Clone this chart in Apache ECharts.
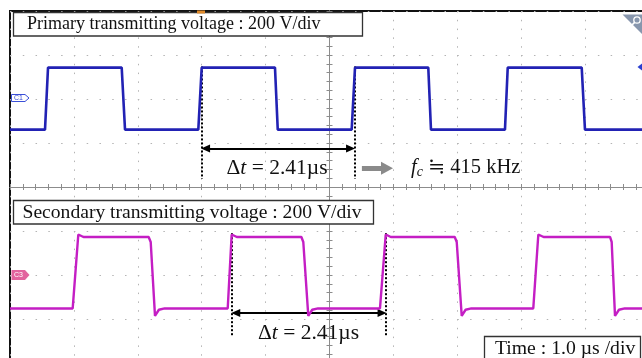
<!DOCTYPE html>
<html><head><meta charset="utf-8">
<script src="https://cdn.jsdelivr.net/npm/echarts@6/dist/echarts.min.js"></script>
<style>html,body{margin:0;padding:0;background:#fff}#c{width:642px;height:358px}</style>
</head><body><div id="c"></div>
<script>
// time in µs relative to screen centre, level in vertical divisions (200 V/div)
const primaryT = [-5, -4.452, -4.405, -3.252, -3.20, -2.053, -2.0, -0.853, -0.81, 0.347, 0.399, 1.546, 1.588, 2.746, 2.789, 3.947, 3.998, 5];
const primaryV = [1.305, 1.305, 2.714, 2.714, 1.305, 1.305, 2.714, 2.714, 1.305, 1.305, 2.714, 2.714, 1.305, 1.305, 2.714, 2.714, 1.305, 1.305];
const secondaryT = [-5, -4.019, -3.931, -3.85, -2.83, -2.798, -2.731, -2.67, -2.58, -1.593, -1.531, -1.45, -0.44, -0.41, -0.332, -0.27, -0.18, 0.79, 0.88, 0.96, 1.96, 1.991, 2.069, 2.13, 2.22, 3.189, 3.268, 3.35, 4.39, 4.416, 4.468, 4.53, 4.62, 5];
const secondaryV = [-2.76, -2.76, -1.08, -1.136, -1.136, -1.25, -2.93, -2.79, -2.76, -2.76, -1.08, -1.136, -1.136, -1.25, -2.93, -2.79, -2.76, -2.76, -1.08, -1.136, -1.136, -1.25, -2.93, -2.79, -2.76, -2.76, -1.08, -1.136, -1.136, -1.25, -2.93, -2.79, -2.76, -2.76];
const primaryLabel = 'Primary transmitting voltage : 200 V/div';
const secondaryLabel = 'Secondary transmitting voltage : 200 V/div';
const timeLabel = 'Time : 1.0 µs /div';
const deltaValue = ' = 2.41µs';
const fcValue = ' ≒ 415 kHz';
// Δt cursor positions (µs)
const primaryCursor = [-2.0, 0.39];
const secondaryCursor = [-1.527, 0.883];

const pairs = (t, v) => t.map((x, i) => [x, v[i]]);
const serif = '"Liberation Serif", "DejaVu Serif", serif';

const chart = echarts.init(document.getElementById('c'), null, {renderer: 'canvas'});

const vline = (x, y0, y1) => [{coord: [x, y0]}, {coord: [x, y1]}];
const tickAxis = (pos, split, dash) => ({
  type: 'value', position: pos,
  axisLine: {onZero: true, lineStyle: {color: '#8c8c8c', width: 1}},
  axisTick: {show: true, inside: true, length: 3, lineStyle: {color: '#8c8c8c'}},
  minorTick: {show: true, splitNumber: 5, length: 3, lineStyle: {color: '#8c8c8c'}},
  axisLabel: {show: false},
  splitLine: {show: split, lineStyle: {color: '#b4b4b4', width: 1, type: dash}}
});

chart.setOption({
  animation: false,
  backgroundColor: '#fff',
  grid: {left: 10, top: 11, width: 639, height: 352, outerBoundsMode: 'none', containLabel: false,
         show: true, borderColor: '#111', borderWidth: 2, backgroundColor: 'transparent'},
  xAxis: [
    Object.assign(tickAxis('bottom', true, [1.5, 7.3]), {min: -5, max: 5, interval: 1}),
    Object.assign(tickAxis('top', false, 'solid'), {min: -5, max: 5, interval: 1})
  ],
  yAxis: [
    Object.assign(tickAxis('left', true, [1.5, 11.28]), {min: -4, max: 4, interval: 1}),
    Object.assign(tickAxis('right', false, 'solid'), {min: -4, max: 4, interval: 1})
  ],
  series: [
    {type: 'line', name: 'C1', data: pairs(primaryT, primaryV), showSymbol: false, symbol: 'none',
     lineStyle: {color: '#2222b4', width: 2.6}, z: 5,
     markLine: {silent: true, symbol: 'none', label: {show: false},
       lineStyle: {color: '#000', width: 2, type: [2, 2]},
       data: [vline(primaryCursor[0], 2.74, 0.18), vline(primaryCursor[1], 2.74, 0.18)]}},
    {type: 'line', name: 'C3', data: pairs(secondaryT, secondaryV), showSymbol: false, symbol: 'none',
     lineStyle: {color: '#c41ec4', width: 2.4}, z: 5,
     markLine: {silent: true, symbol: 'none', label: {show: false},
       lineStyle: {color: '#000', width: 2, type: [2, 2]},
       data: [vline(secondaryCursor[0], -1.05, -3.41), vline(secondaryCursor[1], -1.05, -3.41)]}},
    {type: 'line', data: [], markLine: {silent: true, symbol: ['triangle', 'triangle'], symbolSize: [8, 9], label: {show: false},
       lineStyle: {color: '#000', width: 2, type: 'solid'},
       data: [[{coord: [primaryCursor[0] + 0.06, 0.873]}, {coord: [primaryCursor[1] - 0.06, 0.873]}],
              [{coord: [secondaryCursor[0] + 0.06, -2.864]}, {coord: [secondaryCursor[1] - 0.06, -2.864]}]]}},
    {type: 'line', data: [], markLine: {silent: true, symbol: ['none', 'triangle'], symbolSize: [13, 12], label: {show: false},
       lineStyle: {color: '#8a8a8a', width: 5, type: 'solid'},
       data: [[{coord: [0.507, 0.425]}, {coord: [0.9, 0.425]}]]}}
  ],
  graphic: [
    {type: 'rect', shape: {x: 13.5, y: 12.5, width: 349, height: 23.5}, style: {fill: '#fff', stroke: '#333', lineWidth: 1.3}, z: 100},
    {type: 'text', x: 27, y: 24.5, style: {text: primaryLabel, font: '18px ' + serif, fill: '#111', verticalAlign: 'middle'}, z: 101},
    {type: 'rect', shape: {x: 13.5, y: 200.5, width: 360, height: 23.5}, style: {fill: '#fff', stroke: '#333', lineWidth: 1.3}, z: 100},
    {type: 'text', x: 22.5, y: 212.5, style: {text: secondaryLabel, font: '19.6px ' + serif, fill: '#111', verticalAlign: 'middle'}, z: 101},
    {type: 'rect', shape: {x: 484.5, y: 336.5, width: 156, height: 30}, style: {fill: '#fff', stroke: '#333', lineWidth: 1.3}, z: 100},
    {type: 'text', x: 495, y: 348.5, style: {text: timeLabel, font: '19.7px ' + serif, fill: '#111', verticalAlign: 'middle'}, z: 101},
    {type: 'text', x: 226.5, y: 168, z: 101, style: {text: '{a|Δ}{i|t}{a|' + deltaValue + '}', verticalAlign: 'middle',
      rich: {a: {font: '21.5px ' + serif, fill: '#111'}, i: {font: 'italic 21.5px ' + serif, fill: '#111'}}}},
    {type: 'text', x: 258, y: 333, z: 101, style: {text: '{a|Δ}{i|t}{a|' + deltaValue + '}', verticalAlign: 'middle',
      rich: {a: {font: '21.5px ' + serif, fill: '#111'}, i: {font: 'italic 21.5px ' + serif, fill: '#111'}}}},
    {type: 'text', x: 411, y: 168, z: 101, style: {text: '{i|f}{s|c}{a|' + fcValue + '}', verticalAlign: 'middle',
      rich: {a: {font: '20.5px ' + serif, fill: '#111'}, i: {font: 'italic 20.5px ' + serif, fill: '#111'}, s: {font: 'italic 14px ' + serif, fill: '#111', padding: [8, 0, 0, 0]}}}},
    // channel markers
    {type: 'polygon', shape: {points: [[11.5, 94.5], [25, 94.5], [29, 98], [25, 101.5], [11.5, 101.5]]}, style: {fill: '#fff', stroke: '#3a4fd8', lineWidth: 1}, z: 102},
    {type: 'text', x: 14, y: 98.2, style: {text: 'C1', font: '7px sans-serif', fill: '#3a4fd8', verticalAlign: 'middle'}, z: 103},
    {type: 'polygon', shape: {points: [[11.5, 270], [25, 270], [29.5, 275], [25, 280], [11.5, 280]]}, style: {fill: '#e2639e'}, z: 102},
    {type: 'text', x: 14, y: 275.2, style: {text: 'C3', font: '7px sans-serif', fill: '#fff', verticalAlign: 'middle'}, z: 103},
    // trigger markers
    {type: 'polygon', shape: {points: [[637.5, 67], [642, 63.5], [642, 70.5]]}, style: {fill: '#2a3fd0'}, z: 102},
    {type: 'rect', shape: {x: 197, y: 10.5, width: 8, height: 3}, style: {fill: '#e08a2a'}, z: 102},
    // zoom corner icon
    {type: 'polygon', shape: {points: [[622.5, 14.5], [642, 14.5], [642, 34]]}, style: {fill: '#8796ad'}, z: 102},
    {type: 'circle', shape: {cx: 637, cy: 20, r: 3.2}, style: {fill: 'none', stroke: '#fff', lineWidth: 1.3}, z: 103},
    {type: 'line', shape: {x1: 634.6, y1: 22.4, x2: 631.5, y2: 25.5}, style: {stroke: '#fff', lineWidth: 1.6}, z: 103}
  ]
});
</script></body></html>
